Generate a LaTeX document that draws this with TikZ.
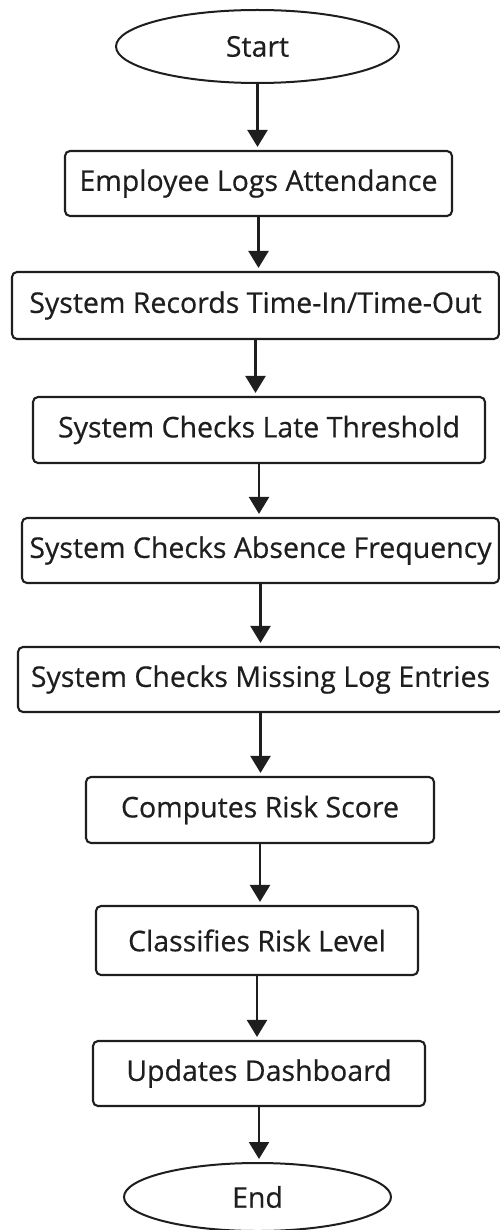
\documentclass[tikz,border=0pt]{standalone}
\usepackage{fontspec}
\setmainfont{Open Sans}[FakeBold=0.5]
\usetikzlibrary{arrows.meta,shapes.geometric}
\definecolor{ink}{HTML}{1E1E1E}
\begin{document}
\begin{tikzpicture}[x=1pt,y=-1pt,
  every node/.style={font=\fontsize{28.5}{34}\selectfont, text=ink},
  stepbox/.style={draw=ink, line width=2.1pt, rounded corners=5pt, inner sep=0pt},
  term/.style={draw=ink, ellipse, line width=2pt, inner sep=0pt},
  arr/.style={draw=ink, line width=2.3pt, shorten >=3pt, -{Triangle[width=20pt,length=17pt]}}]
\useasboundingbox (0,0) rectangle (500,1230);
% terminals and process steps
\node[term, minimum width=283pt, minimum height=73pt] (start) at (257.5,46.5) {Start};
\node[stepbox, minimum width=387pt, minimum height=65pt] (b1) at (258.5,183.5) {Employee Logs Attendance};
\node[stepbox, minimum width=487pt, minimum height=67pt] (b2) at (255.5,305.5) {System Records Time-In/Time-Out};
\node[stepbox, minimum width=452pt, minimum height=66pt] (b3) at (259,430) {System Checks Late Threshold};
\node[stepbox, minimum width=477pt, minimum height=65pt] (b4) at (260.5,550.5) {System Checks Absence Frequency};
\node[stepbox, minimum width=485pt, minimum height=65pt] (b5) at (260.5,679.5) {System Checks Missing Log Entries};
\node[stepbox, minimum width=348pt, minimum height=66pt] (b6) at (260,810) {Computes Risk Score};
\node[stepbox, minimum width=322pt, minimum height=69pt] (b7) at (257,940.5) {Classifies Risk Level};
\node[stepbox, minimum width=332pt, minimum height=65pt] (b8) at (259,1073.5) {Updates Dashboard};
\node[term, minimum width=267pt, minimum height=68pt] (end) at (257.5,1197) {End};
% connectors
\draw[arr] (start.south) -- (start.south |- b1.north);
\draw[arr] (b1.south) -- (b1.south |- b2.north);
\draw[arr] (b2.south) -- (b2.south |- b3.north);
\draw[arr] (b3.south) -- (b3.south |- b4.north);
\draw[arr] (b4.south) -- (b4.south |- b5.north);
\draw[arr] (b5.south) -- (b5.south |- b6.north);
\draw[arr] (b6.south) -- (b6.south |- b7.north);
\draw[arr] (b7.south) -- (b7.south |- b8.north);
\draw[arr] (b8.south) -- (b8.south |- end.north);
\end{tikzpicture}
\end{document}
